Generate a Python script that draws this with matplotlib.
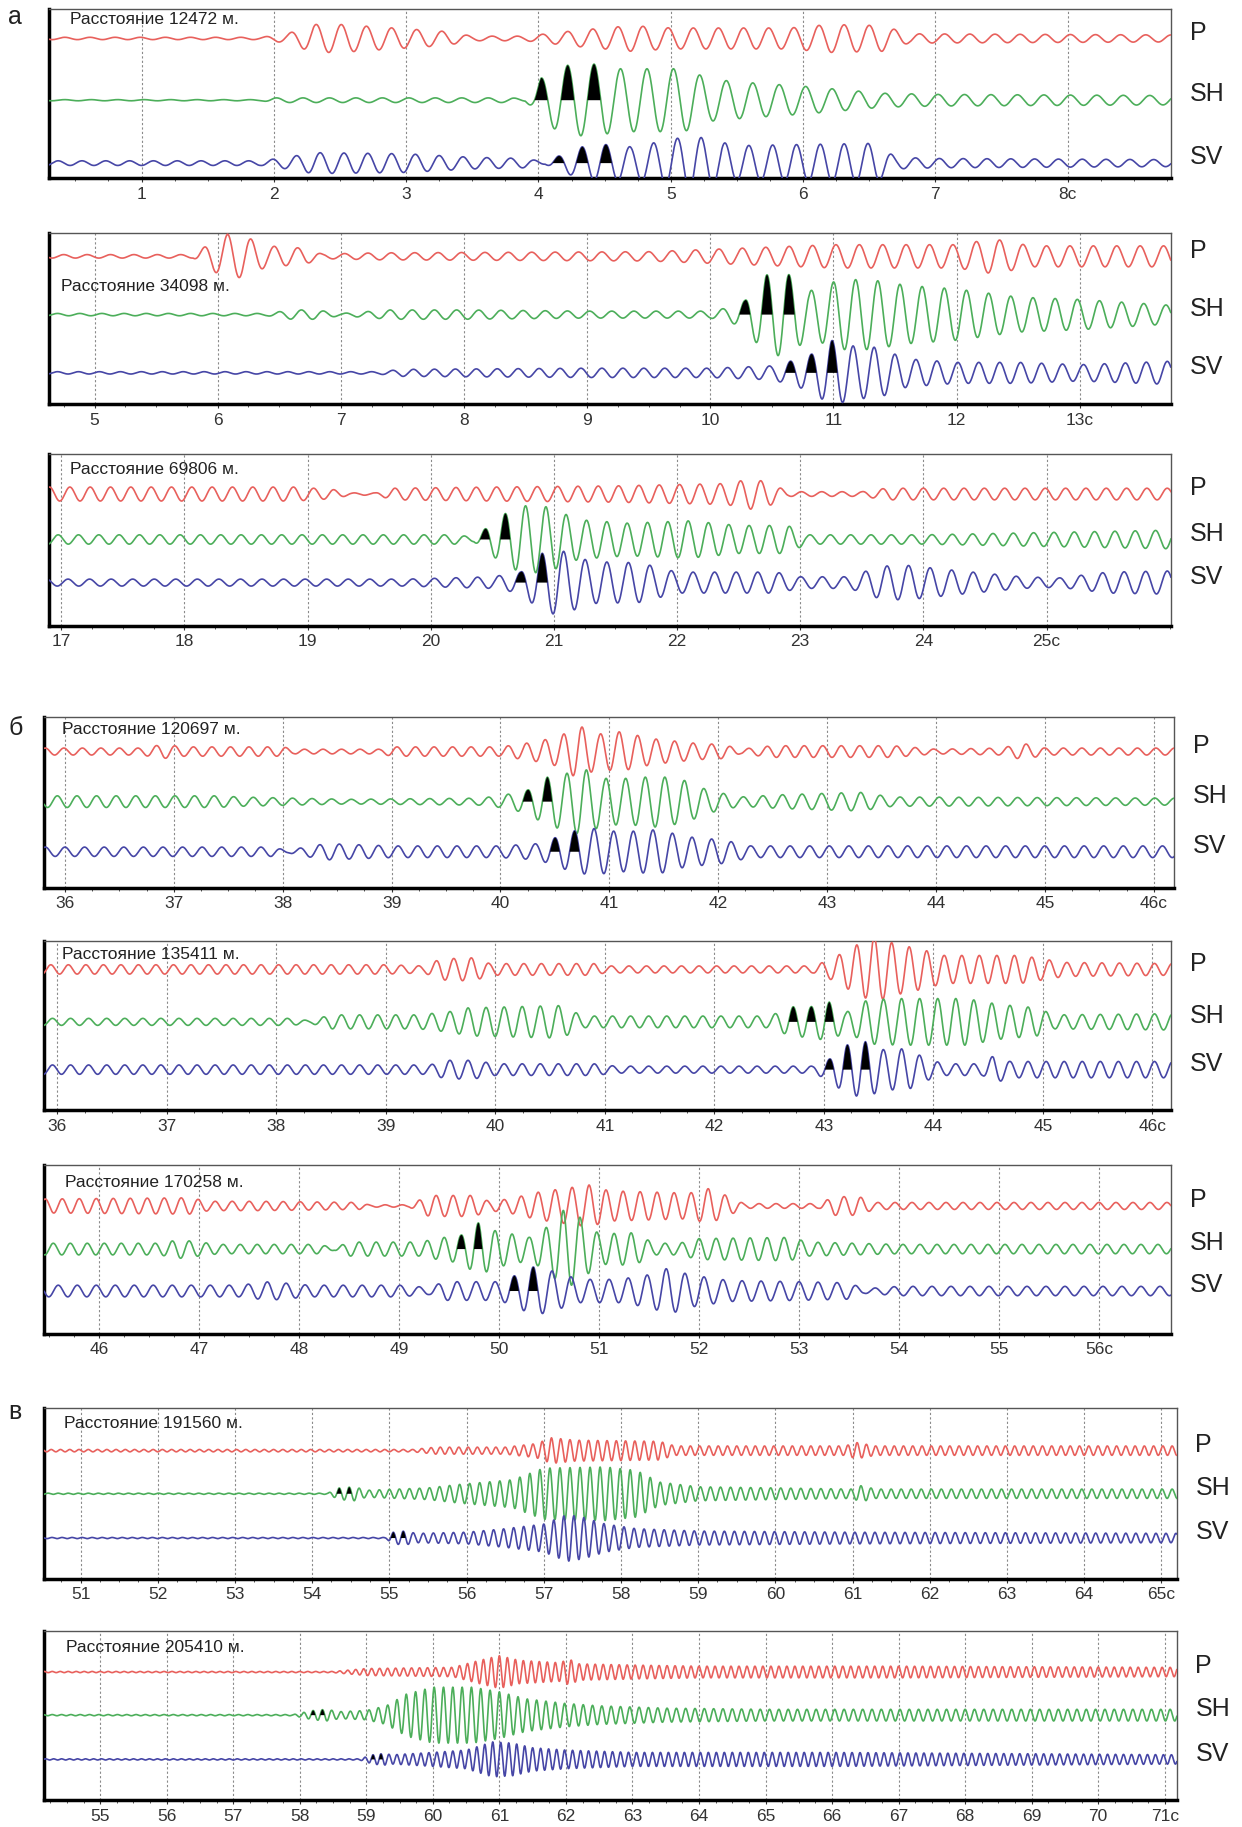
import numpy as np
import matplotlib.pyplot as plt
from matplotlib.ticker import MultipleLocator

plt.rcParams['font.family'] = ['Liberation Sans', 'DejaVu Sans']

# amplitudes are relative trace units, times in seconds
# period / ref lists are per component: P, SH, SV

# ---- а, distance 12472 m ----
p1_dist = 12472
p1_ticks = [1, 2, 3, 4, 5, 6, 7, 8]
p1_period = [0.19, 0.20, 0.18]
p1_ref = [2.32, 4.02, 4.15]
p1_p_t = [0.3, 1.9, 2.1, 2.3, 2.5, 2.9, 3.3, 3.5, 3.9, 4.3, 4.7, 5.0, 5.6, 5.9, 6.2, 6.6, 6.8, 8.8]
p1_p_a = [1, 1, 4, 12, 12, 9, 6, 2, 2, 7, 11, 9, 9, 9, 12, 11, 4, 3]
p1_sh_t = [0.3, 1.9, 2.0, 3.8, 3.9, 3.97, 4.02, 4.22, 4.42, 4.6, 5.1, 5.3, 5.6, 6.0, 6.3, 6.6, 7.0, 8.8]
p1_sh_a = [0.5, 0.5, 2, 2, 1, 8, 19, 30, 31, 27, 27, 18, 15, 12, 9, 6, 5, 4]
p1_sv_t = [0.3, 1.9, 2.1, 2.3, 3.0, 3.5, 3.9, 4.05, 4.15, 4.33, 4.5, 4.7, 5.0, 5.15, 5.5, 6.0, 6.55, 6.7, 7.0, 8.8]
p1_sv_a = [2, 2, 5, 9, 8, 5, 4, 1, 6, 14, 16, 14, 20, 24, 15, 16, 17, 5, 4, 3]
p1_sh_black = [4.02, 4.22, 4.42]
p1_sv_black = [4.15, 4.33, 4.51]

# ---- а, distance 34098 m ----
p2_dist = 34098
p2_ticks = [5, 6, 7, 8, 9, 10, 11, 12, 13]
p2_period = [0.19, 0.18, 0.17]
p2_ref = [6.08, 10.28, 10.65]
p2_p_t = [4.63, 5.8, 5.95, 6.08, 6.2, 6.4, 6.7, 6.85, 7.3, 9.5, 10.5, 11.0, 12.0, 12.3, 12.6, 13.74]
p2_p_a = [1.5, 1.5, 12, 19, 18, 9, 7, 2, 3, 4, 8, 10, 10, 15, 9, 9]
p2_sh_t = [4.63, 6.4, 6.6, 6.8, 7.0, 7.4, 8.0, 9.0, 10.0, 10.15, 10.28, 10.45, 10.62, 10.8, 11.05, 11.3, 11.6, 12.0, 12.5, 13.0, 13.74]
p2_sh_a = [1, 1, 4, 4, 1, 4, 4, 3, 3, 6, 12, 34, 36, 20, 30, 30, 25, 22, 15, 13, 8]
p2_sv_t = [4.63, 7.3, 7.5, 9.0, 10.0, 10.5, 10.65, 10.82, 10.98, 11.2, 11.35, 11.6, 12.0, 12.5, 13.0, 13.74]
p2_sv_a = [1, 1, 3, 4, 4, 6, 10, 16, 28, 22, 22, 12, 9, 9, 7, 10]
p2_sh_black = [10.28, 10.46, 10.64]
p2_sv_black = [10.65, 10.82, 10.99]

# ---- а, distance 69806 m ----
p3_dist = 69806
p3_ticks = [17, 18, 19, 20, 21, 22, 23, 24, 25]
p3_period = [0.165, 0.165, 0.175]
p3_ref = [17.4, 20.44, 20.73]
p3_p_t = [16.9, 18.9, 19.2, 19.35, 19.55, 19.7, 20.5, 21.5, 22.4, 22.6, 22.75, 22.9, 23.5, 23.7, 26.01]
p3_p_a = [6, 6, 4, 1, 1, 5, 6, 7, 9, 13, 10, 2, 2, 5, 5]
p3_sh_t = [16.9, 20.2, 20.35, 20.44, 20.6, 20.75, 20.95, 21.2, 21.6, 22.1, 22.5, 22.9, 23.05, 24.0, 25.0, 26.01]
p3_sh_a = [4, 4, 2, 9, 22, 29, 28, 17, 14, 16, 12, 12, 4, 4, 6, 8]
p3_sv_t = [16.9, 19.8, 20.5, 20.73, 20.9, 21.05, 21.3, 21.7, 22.0, 22.8, 23.0, 23.4, 23.65, 23.85, 24.3, 24.8, 25.1, 25.5, 26.01]
p3_sv_a = [3, 3, 5, 9, 25, 28, 18, 17, 9, 9, 5, 5, 14, 15, 10, 5, 4, 9, 10]
p3_sh_black = [20.44, 20.6]
p3_sv_black = [20.73, 20.9]

# ---- б, distance 120697 m ----
p4_dist = 120697
p4_ticks = [36, 37, 38, 39, 40, 41, 42, 43, 44, 45, 46]
p4_period = [0.17, 0.18, 0.18]
p4_ref = [40.75, 40.25, 40.5]
p4_p_t = [35.81, 36.7, 36.9, 37.1, 38.0, 38.1, 38.9, 39.0, 40.0, 40.3, 40.55, 40.7, 40.9, 41.1, 41.4, 41.8, 42.05, 42.2, 42.5, 43.6, 44.0, 44.6, 44.8, 45.0, 46.19]
p4_p_a = [3, 3, 6, 4, 4, 2, 2, 4, 4, 8, 13, 23, 15, 17, 11, 7, 6, 2, 5, 5, 2, 3, 7, 3, 3]
p4_sh_t = [35.81, 37.4, 37.6, 38.6, 39.8, 40.0, 40.25, 40.43, 40.6, 40.75, 40.95, 41.2, 41.45, 41.7, 41.9, 42.2, 42.6, 43.3, 43.6, 46.19]
p4_sh_a = [5, 5, 4, 2, 3, 5, 10, 21, 24, 29, 20, 20, 22, 18, 10, 4, 6, 8, 4, 3]
p4_sv_t = [35.81, 37.9, 38.05, 38.15, 38.4, 39.0, 40.0, 40.35, 40.5, 40.68, 40.85, 41.1, 41.45, 41.7, 42.05, 42.3, 46.19]
p4_sv_a = [4, 4, 1, 3, 7, 5, 5, 7, 12, 18, 20, 17, 19, 13, 10, 5, 5]
p4_sh_black = [40.25, 40.43]
p4_sv_black = [40.5, 40.68]

# ---- б, distance 135411 m ----
p5_dist = 135411
p5_ticks = [36, 37, 38, 39, 40, 41, 42, 43, 44, 45, 46]
p5_period = [0.16, 0.165, 0.165]
p5_ref = [43.3, 42.72, 43.05]
p5_p_t = [35.88, 39.0, 39.35, 39.5, 39.8, 39.95, 40.9, 41.0, 42.9, 43.05, 43.3, 43.46, 43.65, 43.9, 44.1, 44.8, 45.2, 46.17]
p5_p_a = [4, 4, 3, 9, 10, 5, 5, 3, 3, 8, 21, 28, 22, 17, 12, 12, 6, 5]
p5_sh_t = [35.88, 38.15, 38.3, 38.5, 39.3, 39.6, 39.75, 40.6, 40.8, 41.0, 42.5, 42.72, 42.88, 43.05, 43.2, 43.4, 43.7, 44.3, 44.6, 44.95, 45.1, 46.17]
p5_sh_a = [3, 3, 1, 6, 6, 9, 12, 14, 5, 5, 5, 13, 13, 17, 8, 19, 20, 20, 15, 12, 6, 7]
p5_sv_t = [35.88, 39.4, 39.55, 39.8, 40.0, 40.9, 41.1, 42.9, 43.05, 43.2, 43.38, 43.55, 43.75, 43.95, 44.1, 44.45, 44.55, 44.7, 46.17]
p5_sv_a = [4, 4, 8, 8, 5, 5, 3, 3, 9, 21, 24, 17, 18, 9, 5, 5, 12, 7, 7]
p5_sh_black = [42.72, 42.88, 43.05]
p5_sv_black = [43.05, 43.21, 43.38]

# ---- б, distance 170258 m ----
p6_dist = 170258
p6_ticks = [46, 47, 48, 49, 50, 51, 52, 53, 54, 55, 56]
p6_period = [0.17, 0.17, 0.19]
p6_ref = [50.9, 49.62, 50.15]
p6_p_t = [45.45, 46.9, 47.1, 47.6, 48.6, 48.7, 49.1, 49.3, 49.75, 49.9, 50.1, 50.4, 50.9, 51.1, 51.9, 52.1, 52.3, 52.45, 53.2, 53.35, 53.6, 53.75, 56.72]
p6_p_a = [6, 7, 4, 4, 3, 1, 1, 9, 9, 4, 6, 12, 18, 13, 11, 15, 8, 2, 2, 8, 8, 3, 3]
p6_sh_t = [45.45, 46.6, 46.8, 47.2, 48.2, 48.35, 48.5, 49.2, 49.45, 49.62, 49.8, 49.95, 50.3, 50.5, 50.65, 50.8, 51.0, 51.35, 51.55, 51.8, 52.0, 52.9, 53.1, 54.0, 56.72]
p6_sh_a = [5, 5, 8, 4, 4, 1, 6, 6, 10, 12, 23, 16, 10, 20, 34, 28, 13, 14, 5, 5, 9, 10, 6, 4, 4]
p6_sv_t = [45.45, 47.4, 47.7, 48.1, 49.0, 49.3, 49.45, 50.0, 50.15, 50.35, 50.5, 50.8, 51.2, 51.5, 51.7, 51.9, 52.3, 53.0, 53.5, 53.65, 54.0, 56.72]
p6_sv_a = [5, 5, 8, 5, 5, 3, 8, 8, 13, 21, 18, 10, 10, 14, 20, 14, 9, 8, 7, 2, 4, 4]
p6_sh_black = [49.62, 49.79]
p6_sv_black = [50.15, 50.34]

# ---- в, distance 191560 m ----
p7_dist = 191560
p7_ticks = list(range(51, 66))
p7_period = [0.12, 0.13, 0.13]
p7_ref = [57.1, 54.35, 55.05]
p7_p_t = [50.53, 55.3, 55.6, 56.5, 56.9, 57.1, 57.4, 58.5, 58.7, 60.9, 61.05, 61.3, 65.2]
p7_p_a = [1, 1, 3, 3, 6, 11, 9, 8, 4, 4, 7, 4, 4]
p7_sh_t = [50.53, 54.2, 54.35, 54.55, 54.7, 55.5, 55.9, 56.6, 57.0, 57.8, 58.2, 58.5, 59.0, 60.0, 61.0, 61.1, 61.3, 65.2]
p7_sh_a = [0.5, 0.5, 5, 6, 3, 5, 8, 12, 22, 23, 20, 10, 6, 5, 4, 7, 4, 4]
p7_sv_t = [50.53, 54.95, 55.05, 55.2, 55.35, 56.0, 56.5, 57.0, 57.3, 57.5, 57.8, 58.2, 59.0, 61.0, 65.2]
p7_sv_a = [0.5, 0.5, 5, 6, 4, 5, 8, 12, 20, 18, 12, 8, 6, 5, 4]
p7_sh_black = [54.35, 54.48]
p7_sv_black = [55.05, 55.18]

# ---- в, distance 205410 m ----
p8_dist = 205410
p8_ticks = list(range(55, 72))
p8_period = [0.12, 0.14, 0.12]
p8_ref = [61.0, 58.2, 59.1]
p8_p_t = [54.16, 58.5, 59.0, 60.3, 60.7, 61.0, 61.3, 61.9, 62.05, 62.2, 63.0, 64.0, 67.0, 71.18]
p8_p_a = [0.5, 0.5, 3, 4, 10, 14, 10, 8, 11, 7, 6, 5, 5, 4]
p8_sh_t = [54.16, 57.9, 58.2, 58.4, 58.6, 59.0, 59.3, 59.6, 60.0, 60.6, 61.0, 61.4, 62.0, 62.5, 63.5, 65.0, 71.18]
p8_sh_a = [0.5, 0.5, 4, 5, 3, 4, 8, 18, 24, 24, 20, 14, 10, 8, 6, 5, 5]
p8_sv_t = [54.16, 58.9, 59.1, 59.25, 59.4, 60.0, 60.5, 60.9, 61.2, 61.5, 62.0, 63.0, 65.0, 66.0, 71.18]
p8_sv_a = [0.5, 0.5, 4, 5, 4, 6, 8, 15, 14, 10, 8, 6, 6, 6, 4]
p8_sh_black = [58.2, 58.34]
p8_sv_black = [59.1, 59.22]

components = ['P', 'SH', 'SV']
colors = ['#e8605c', '#4cae5a', '#4646a6']

panels = [
    (p1_dist, p1_ticks, p1_period, p1_ref, [(p1_p_t, p1_p_a), (p1_sh_t, p1_sh_a), (p1_sv_t, p1_sv_a)], [[], p1_sh_black, p1_sv_black]),
    (p2_dist, p2_ticks, p2_period, p2_ref, [(p2_p_t, p2_p_a), (p2_sh_t, p2_sh_a), (p2_sv_t, p2_sv_a)], [[], p2_sh_black, p2_sv_black]),
    (p3_dist, p3_ticks, p3_period, p3_ref, [(p3_p_t, p3_p_a), (p3_sh_t, p3_sh_a), (p3_sv_t, p3_sv_a)], [[], p3_sh_black, p3_sv_black]),
    (p4_dist, p4_ticks, p4_period, p4_ref, [(p4_p_t, p4_p_a), (p4_sh_t, p4_sh_a), (p4_sv_t, p4_sv_a)], [[], p4_sh_black, p4_sv_black]),
    (p5_dist, p5_ticks, p5_period, p5_ref, [(p5_p_t, p5_p_a), (p5_sh_t, p5_sh_a), (p5_sv_t, p5_sv_a)], [[], p5_sh_black, p5_sv_black]),
    (p6_dist, p6_ticks, p6_period, p6_ref, [(p6_p_t, p6_p_a), (p6_sh_t, p6_sh_a), (p6_sv_t, p6_sv_a)], [[], p6_sh_black, p6_sv_black]),
    (p7_dist, p7_ticks, p7_period, p7_ref, [(p7_p_t, p7_p_a), (p7_sh_t, p7_sh_a), (p7_sv_t, p7_sv_a)], [[], p7_sh_black, p7_sv_black]),
    (p8_dist, p8_ticks, p8_period, p8_ref, [(p8_p_t, p8_p_a), (p8_sh_t, p8_sh_a), (p8_sv_t, p8_sv_a)], [[], p8_sh_black, p8_sv_black]),
]

# layout, in px of a 1066x1568 grid
W, H = 1066, 1568
boxes = [(42, 1005, 8, 153), (42, 1005, 200, 347), (42, 1005, 390, 537),
         (38, 1008, 615, 762), (38, 1005, 808, 953), (38, 1005, 1000, 1145),
         (38, 1010, 1208, 1355), (38, 1010, 1400, 1545)]
bases = [(33, 86, 140), (220, 270, 320), (424, 463, 500),
         (645, 688, 731), (832, 877, 918), (1035, 1072, 1108),
         (1245, 1282, 1320), (1435, 1472, 1510)]
xlims = [(0.3, 8.78), (4.63, 13.74), (16.9, 26.01), (35.81, 46.19),
         (35.88, 46.17), (45.45, 56.72), (50.53, 65.2), (54.16, 71.18)]
label_pos = [(60, 17), (52, 246), (60, 403), (53, 626), (53, 819),
             (56, 1015), (55, 1222), (57, 1414)]


def trace(t, env_t, env_a, period, ref):
    return np.interp(t, env_t, env_a) * np.cos(2 * np.pi * (t - ref) / period)


fig = plt.figure(figsize=(12.42, 18.27), dpi=100)

for i, (dist, ticks, period, ref, series, blacks) in enumerate(panels):
    l, r, top, bot = boxes[i]
    ax = fig.add_axes([l / W, 1 - bot / H, (r - l) / W, (bot - top) / H])
    x0, x1 = xlims[i]
    ax.set_xlim(x0, x1)
    ax.set_ylim(0, bot - top)
    t = np.arange(x0, x1, 0.002)
    for k in range(3):
        y0 = bot - bases[i][k]
        y = y0 + trace(t, series[k][0], series[k][1], period[k], ref[k])
        ax.plot(t, y, color=colors[k], lw=1.2, zorder=3)
        if blacks[k]:
            m = np.zeros_like(t, dtype=bool)
            for tb in blacks[k]:
                c = ref[k] + round((tb - ref[k]) / period[k]) * period[k]
                m |= np.abs(t - c) < period[k] / 4
            ax.fill_between(t, y0, y, where=m & (y > y0), color='black', lw=0, zorder=4)
        fig.text((r + 16) / W, 1 - (bases[i][k] - 5) / H, components[k],
                 fontsize=18, ha='left', va='center', color='#222')

    ax.set_xticks(ticks)
    labels = [str(v) for v in ticks]
    labels[-1] += 'с'
    ax.set_xticklabels(labels)
    ax.xaxis.set_minor_locator(MultipleLocator(0.25))
    ax.set_yticks([])
    ax.tick_params(axis='x', which='major', labelsize=12.5, colors='#333', length=3, width=0.8, pad=3)
    ax.tick_params(axis='x', which='minor', length=2.5, width=0.7, colors='#555')
    ax.grid(axis='x', which='major', color='#8a8a8a', ls=(0, (2, 2)), lw=0.8, zorder=1)
    for s in ['top', 'right']:
        ax.spines[s].set_color('#555')
        ax.spines[s].set_linewidth(1.0)
    for s in ['left', 'bottom']:
        ax.spines[s].set_color('black')
        ax.spines[s].set_linewidth(2.5)

    lx, ly = label_pos[i]
    fig.text(lx / W, 1 - ly / H, f'Расстояние {dist} м.', fontsize=12.5,
             ha='left', va='center', color='#222')

for letter, ly in [('а', 15), ('б', 625), ('в', 1212)]:
    fig.text(7 / W, 1 - ly / H, letter, fontsize=18, ha='left', va='center', color='#222')

fig.savefig('out.png', dpi=100)
